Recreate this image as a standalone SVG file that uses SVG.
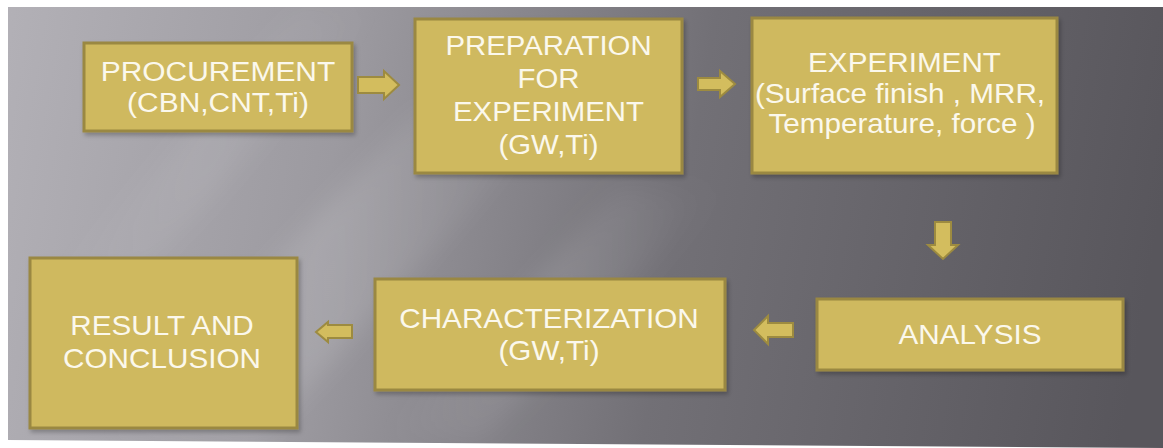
<svg xmlns="http://www.w3.org/2000/svg" width="1163" height="448" viewBox="0 0 1163 448">
<defs>
<linearGradient id="bg" x1="0" y1="0" x2="1163" y2="200" gradientUnits="userSpaceOnUse">
<stop offset="0" stop-color="#b3b1b7"/>
<stop offset="0.3" stop-color="#9c9aa0"/>
<stop offset="0.6" stop-color="#727076"/>
<stop offset="1" stop-color="#58565c"/>
</linearGradient>
<linearGradient id="streak" x1="0" y1="0" x2="1" y2="0">
<stop offset="0" stop-color="#ffffff" stop-opacity="0"/>
<stop offset="0.5" stop-color="#ffffff" stop-opacity="0.13"/>
<stop offset="1" stop-color="#ffffff" stop-opacity="0"/>
</linearGradient>
<filter id="blur" x="-20%" y="-20%" width="140%" height="140%">
<feGaussianBlur stdDeviation="12"/>
</filter>
<filter id="sh" x="-5%" y="-5%" width="115%" height="120%">
<feDropShadow dx="2" dy="3" stdDeviation="2" flood-color="#000" flood-opacity="0.25"/>
</filter>
<clipPath id="bgclip"><polygon points="8,7 1163,7 1163,448 8,440"/></clipPath>
</defs>
<style>
.box{fill:#cfb95f;stroke:#9a8842;stroke-width:3;filter:url(#sh)}
.arr{fill:#d3bd5e;stroke:#9d8b40;stroke-width:2;stroke-linejoin:miter}
.t{font-family:"Liberation Sans",Arial,sans-serif;font-size:28px;fill:#fbf8ec;text-anchor:middle}
</style>
<rect x="0" y="0" width="1163" height="448" fill="#ffffff"/>
<polygon points="8,7 1163,7 1163,448 8,440" fill="url(#bg)"/>
<g clip-path="url(#bgclip)" filter="url(#blur)">
<polygon points="420,110 560,110 260,440 100,440" fill="url(#streak)"/>
<polygon points="620,190 720,190 480,440 380,440" fill="url(#streak)" opacity="0.8"/>
<polygon points="300,7 380,7 120,300 40,300" fill="url(#streak)" opacity="0.6"/>
</g>

<g id="procurement">
<rect class="box" x="84" y="43" width="268" height="88"/>
<text class="t" transform="translate(218 81) scale(1.07 1)">PROCUREMENT</text>
<text class="t" transform="translate(218 112) scale(1.07 1)">(CBN,CNT,Ti)</text>
</g>
<g id="preparation">
<rect class="box" x="415" y="19" width="267" height="154"/>
<text class="t" transform="translate(548.5 55) scale(1.05 1)">PREPARATION</text>
<text class="t" transform="translate(548.5 88) scale(1.05 1)">FOR</text>
<text class="t" transform="translate(548.5 121) scale(1.05 1)">EXPERIMENT</text>
<text class="t" transform="translate(548.5 154) scale(1.05 1)">(GW,Ti)</text>
</g>
<g id="experiment">
<rect class="box" x="752" y="18" width="305" height="155"/>
<text class="t" transform="translate(904.5 72) scale(1.06 1)">EXPERIMENT</text>
<text class="t" transform="translate(900 103) scale(1.06 1)">(Surface finish , MRR,</text>
<text class="t" transform="translate(902 133) scale(1.06 1)">Temperature, force )</text>
</g>
<g id="analysis">
<rect class="box" x="817" y="299" width="306" height="71"/>
<text class="t" transform="translate(970 344) scale(1.06 1)">ANALYSIS</text>
</g>
<g id="characterization">
<rect class="box" x="375" y="279" width="350" height="111"/>
<text class="t" transform="translate(549 328) scale(1.06 1)">CHARACTERIZATION</text>
<text class="t" transform="translate(549 360) scale(1.06 1)">(GW,Ti)</text>
</g>
<g id="result">
<rect class="box" x="30" y="258" width="267" height="170"/>
<text class="t" transform="translate(162 335) scale(1.06 1)">RESULT AND</text>
<text class="t" transform="translate(162 368) scale(1.06 1)">CONCLUSION</text>
</g>

<g id="connectors">
<polygon class="arr" points="358,77 384,77 384,71 399,85 384,99 384,93 358,93"/>
<polygon class="arr" points="698,78 720,78 720,71 735,84 720,97 720,90 698,90"/>
<polygon class="arr" points="935,222 951,222 951,245 958,245 943,259 928,245 935,245"/>
<polygon class="arr" points="793,323 768,323 768,316 754,330 768,344 768,337 793,337"/>
<polygon class="arr" points="352,325 328,325 328,322 316,332 328,342 328,338 352,338"/>
</g>
</svg>
